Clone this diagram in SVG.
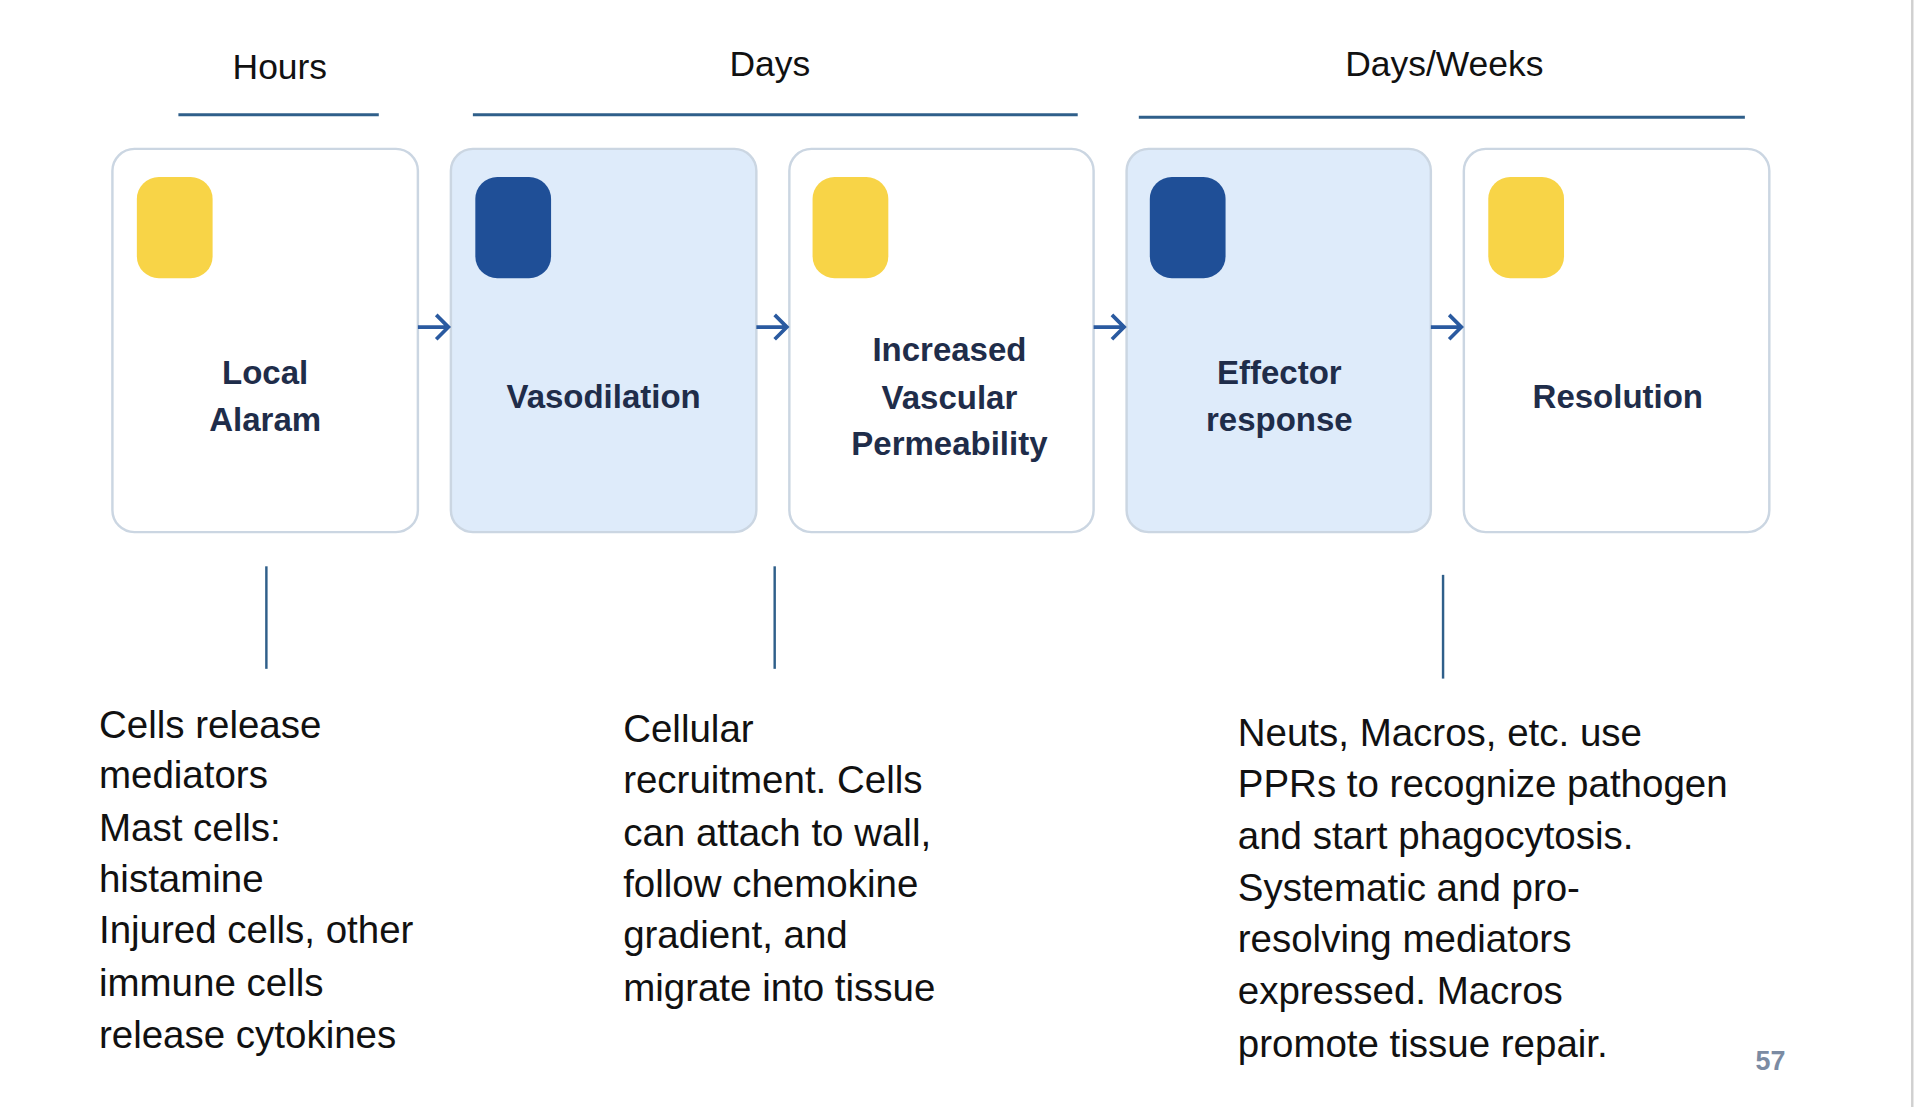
<svg xmlns="http://www.w3.org/2000/svg" width="1916" height="1107" viewBox="0 0 1916 1107">
<style>
.hd{font-family:"Liberation Sans",Arial,sans-serif;font-size:29px;fill:#111;text-anchor:middle}
.hl{stroke:#2f5f8a;stroke-width:2.5}
.box{stroke:#cbd6e2;stroke-width:2}
.w{fill:#fff}.b{fill:#deebfa}
.y{fill:#f8d447}.d{fill:#1f4f97}
.lb{font-family:"Liberation Sans",Arial,sans-serif;font-size:27px;font-weight:bold;fill:#1f2d4a;text-anchor:middle}
.bd{font-family:"Liberation Sans",Arial,sans-serif;font-size:31.5px;fill:#111}
.ar{stroke:#2a5aa0;stroke-width:3;fill:none}
.vl{stroke:#2f5f8a;stroke-width:2}
</style>
<rect width="1916" height="1107" fill="#fff"/>
<g transform="scale(1.2219,1.2205)">
<g id="headers">
<text class="hd" x="229" y="65">Hours</text>
<text class="hd" x="630" y="62">Days</text>
<text class="hd" x="1182" y="62">Days/Weeks</text>
<line class="hl" x1="146" y1="94" x2="310" y2="94"/>
<line class="hl" x1="387" y1="94" x2="882" y2="94"/>
<line class="hl" x1="932" y1="96" x2="1428" y2="96"/>
</g>
<g id="n1"><rect class="box w" x="92" y="122" width="250" height="314" rx="18"/><rect class="y" x="112" y="145" width="62" height="83" rx="18"/><text class="lb" x="217" y="315">Local</text><text class="lb" x="217" y="353">Alaram</text></g>
<g id="n2"><rect class="box b" x="369" y="122" width="250" height="314" rx="18"/><rect class="d" x="389" y="145" width="62" height="83" rx="18"/><text class="lb" x="494" y="334">Vasodilation</text></g>
<g id="n3"><rect class="box w" x="646" y="122" width="249" height="314" rx="18"/><rect class="y" x="665" y="145" width="62" height="83" rx="18"/><text class="lb" x="777" y="296">Increased</text><text class="lb" x="777" y="335">Vascular</text><text class="lb" x="777" y="373">Permeability</text></g>
<g id="n4"><rect class="box b" x="922" y="122" width="249" height="314" rx="18"/><rect class="d" x="941" y="145" width="62" height="83" rx="18"/><text class="lb" x="1047" y="315">Effector</text><text class="lb" x="1047" y="353">response</text></g>
<g id="n5"><rect class="box w" x="1198" y="122" width="250" height="314" rx="18"/><rect class="y" x="1218" y="145" width="62" height="83" rx="18"/><text class="lb" x="1324" y="334">Resolution</text></g>
<g id="connectors">
<path class="ar" d="M342 268H367M357 258L367 268L357 278"/>
<path class="ar" d="M619 268H644M634 258L644 268L634 278"/>
<path class="ar" d="M895 268H920M910 258L920 268L910 278"/>
<path class="ar" d="M1171 268H1196M1186 258L1196 268L1186 278"/>
<line class="vl" x1="218" y1="464" x2="218" y2="548"/>
<line class="vl" x1="634" y1="464" x2="634" y2="548"/>
<line class="vl" x1="1181" y1="471" x2="1181" y2="556"/>
</g>
<g id="notes">
<text class="bd" x="81" y="605">Cells release</text>
<text class="bd" x="81" y="646">mediators</text>
<text class="bd" x="81" y="689">Mast cells:</text>
<text class="bd" x="81" y="731">histamine</text>
<text class="bd" x="81" y="773">Injured cells, other</text>
<text class="bd" x="81" y="816">immune cells</text>
<text class="bd" x="81" y="859">release cytokines</text>
<text class="bd" x="510" y="608">Cellular</text>
<text class="bd" x="510" y="650">recruitment. Cells</text>
<text class="bd" x="510" y="693">can attach to wall,</text>
<text class="bd" x="510" y="735">follow chemokine</text>
<text class="bd" x="510" y="777">gradient, and</text>
<text class="bd" x="510" y="820">migrate into tissue</text>
<text class="bd" x="1013" y="611">Neuts, Macros, etc. use</text>
<text class="bd" x="1013" y="653">PPRs to recognize pathogen</text>
<text class="bd" x="1013" y="696">and start phagocytosis.</text>
<text class="bd" x="1013" y="738">Systematic and pro-</text>
<text class="bd" x="1013" y="780">resolving mediators</text>
<text class="bd" x="1013" y="823">expressed. Macros</text>
<text class="bd" x="1013" y="866">promote tissue repair.</text>
<text x="1449" y="877" font-family="Liberation Sans,Arial,sans-serif" font-size="22" font-weight="bold" fill="#7b8ba3" text-anchor="middle">57</text>
</g>
<line x1="1565" y1="0" x2="1565" y2="907" stroke="#d0d0d0" stroke-width="2"/>
</g>
</svg>
